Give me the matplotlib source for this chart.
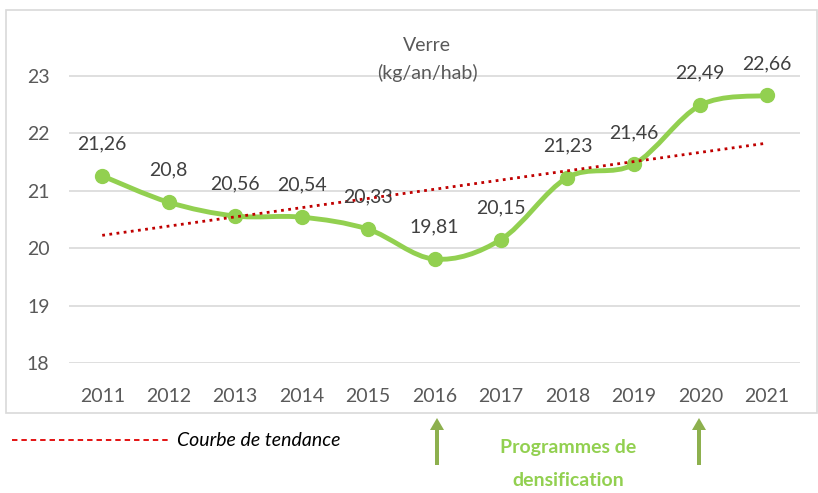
import matplotlib.pyplot as plt
from matplotlib.path import Path
from matplotlib.patches import PathPatch, Rectangle, FancyArrow
import numpy as np

years = [2011, 2012, 2013, 2014, 2015, 2016, 2017, 2018, 2019, 2020, 2021]
values = [21.26, 20.8, 20.56, 20.54, 20.33, 19.81, 20.15, 21.23, 21.46, 22.49, 22.66]
labels = ['21,26', '20,8', '20,56', '20,54', '20,33', '19,81', '20,15', '21,23', '21,46', '22,49', '22,66']
yticks = [18, 19, 20, 21, 22, 23]

green = '#92d050'
grey = '#595959'

plt.rcParams['font.family'] = ['Lato', 'DejaVu Sans']
fs = 14

fig = plt.figure(figsize=(8.18, 4.93), dpi=100)
W, H = 818, 493

# outer chart frame
fig.patches.append(Rectangle((6 / W, 1 - 413 / H), 811 / W, 403 / H, transform=fig.transFigure,
                             fill=False, edgecolor='#d9d9d9', lw=1.2))

ax = fig.add_axes([69 / W, 1 - 363 / H, 731 / W, 333 / H])
x = np.arange(len(years))
ax.set_xlim(-0.5, len(years) - 0.5)
ax.set_ylim(18, 23.8)

for t in yticks:
    ax.axhline(t, color='#d9d9d9', lw=1.2, zorder=0)

# smoothed line (Excel-like bezier between points)
pts = np.column_stack([x, values])
verts = [tuple(pts[0])]
codes = [Path.MOVETO]
n = len(pts)
for i in range(n - 1):
    p0 = pts[max(i - 1, 0)]
    p1 = pts[i]
    p2 = pts[i + 1]
    p3 = pts[min(i + 2, n - 1)]
    c1 = p1 + (p2 - p0) / 6.0
    c2 = p2 - (p3 - p1) / 6.0
    verts += [tuple(c1), tuple(c2), tuple(p2)]
    codes += [Path.CURVE4] * 3
ax.add_patch(PathPatch(Path(verts, codes), fill=False, edgecolor=green, lw=3.5,
                       capstyle='round', zorder=3))
ax.plot(x, values, 'o', color=green, ms=10, zorder=4)

# trend line
slope, inter = np.polyfit(x, values, 1)
ax.plot([x[0], x[-1]], [inter, inter + slope * x[-1]], ls=(0, (1, 1.6)), color='#c00000', lw=2, zorder=5)

for xi, v, lab in zip(x, values, labels):
    ax.annotate(lab, (xi, v), xytext=(0, 23), textcoords='offset points', ha='center', va='center',
                fontsize=fs, color='#404040', zorder=6)

ax.text(0.49, 0.979, 'Verre\n(kg/an/hab)', transform=ax.transAxes, ha='center', va='top',
        fontsize=fs, color=grey, linespacing=1.65)

ax.set_xticks(x)
ax.set_xticklabels([str(y) for y in years], fontsize=fs, color=grey)
ax.set_yticks(yticks)
ax.set_yticklabels([str(t) for t in yticks], fontsize=fs, color=grey)
ax.tick_params(length=0)
ax.tick_params(axis='x', pad=18)
ax.tick_params(axis='y', pad=14)
for s in ax.spines.values():
    s.set_visible(False)
ax.patch.set_alpha(0)

# legend for trend line
fig.add_artist(plt.Line2D([12 / W, 170 / W], [1 - 440 / H] * 2, transform=fig.transFigure,
                          color='#e00000', ls=(0, (3, 2.2)), lw=1.3))
fig.text(177 / W, 1 - 440 / H, 'Courbe de tendance', fontsize=fs, style='italic', color='black', va='center')

# arrows for densification programmes
for xa in [437, 699]:
    fig.patches.append(FancyArrow(xa / W, 1 - 465 / H, 0, 47 / H, width=4 / W, head_width=14 / W,
                                  head_length=12 / H, length_includes_head=True,
                                  transform=fig.transFigure, color='#8db04e', lw=0))
fig.text(568 / W, 1 - 448 / H, 'Programmes de', fontsize=fs, weight='bold', color=green, ha='center', va='center')
fig.text(568 / W, 1 - 481 / H, 'densification', fontsize=fs, weight='bold', color=green, ha='center', va='center')

fig.savefig('out.png', dpi=100)
